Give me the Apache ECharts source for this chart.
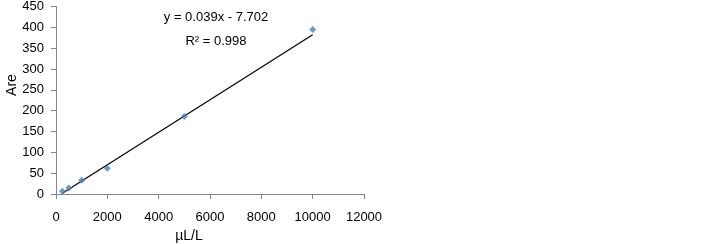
<!DOCTYPE html>
<html><head><meta charset="utf-8">
<script src="https://cdn.jsdelivr.net/npm/echarts@6/dist/echarts.min.js"></script>
<style>html,body{margin:0;padding:0;background:#fff}#c{width:722px;height:244px}</style>
</head><body><div id="c"></div>
<script>
const concentrations = [250, 500, 1000, 2000, 5000, 10000];
const areas = [6.5, 14.5, 33, 62, 186, 395];
const trendX = [250, 10000];
const trendY = [2, 382];
const yTicks = [0, 50, 100, 150, 200, 250, 300, 350, 400, 450];
const xTicks = [0, 2000, 4000, 6000, 8000, 10000, 12000];
const equationLines = ['y = 0.039x - 7.702', 'R² = 0.998'];
const xTitle = 'µL/L';
const yTitle = 'Are';

const font = 'Liberation Sans';
const chart = echarts.init(document.getElementById('c'));
chart.setOption({
  animation: false,
  grid: {left: 56, top: 6, right: 358, bottom: 50, containLabel: false},
  xAxis: {
    type: 'value', min: xTicks[0], max: xTicks[xTicks.length-1], interval: 2000,
    axisLine: {show: true, lineStyle: {color: '#868686', width: 1}},
    axisTick: {show: true, length: 5, lineStyle: {color: '#868686'}},
    axisLabel: {margin: 17, color: '#000', fontFamily: font, fontSize: 13, formatter: v => String(v)},
    splitLine: {show: false}
  },
  yAxis: {
    type: 'value', min: yTicks[0], max: yTicks[yTicks.length-1], interval: 50,
    axisLine: {show: true, lineStyle: {color: '#868686', width: 1}},
    axisTick: {show: true, length: 5, lineStyle: {color: '#868686'}},
    axisLabel: {margin: 12, color: '#000', fontFamily: font, fontSize: 13, formatter: v => String(v)},
    splitLine: {show: false}
  },
  graphic: [
    {type: 'text', x: 189, y: 236, style: {text: xTitle, font: '14px "Liberation Sans"', fill: '#000', textAlign: 'center', textVerticalAlign: 'middle'}},
    {type: 'text', x: 12, y: 85, rotation: Math.PI/2, style: {text: yTitle, font: '14px "Liberation Sans"', fill: '#000', textAlign: 'center', textVerticalAlign: 'middle'}},
    {type: 'text', x: 216, y: 17, style: {text: equationLines[0], font: '13px "Liberation Sans"', fill: '#000', textAlign: 'center', textVerticalAlign: 'middle'}},
    {type: 'text', x: 216, y: 41, style: {text: equationLines[1], font: '13px "Liberation Sans"', fill: '#000', textAlign: 'center', textVerticalAlign: 'middle'}}
  ],
  series: [
    {type: 'line', data: trendX.map((x, i) => [x, trendY[i]]), showSymbol: false, symbol: 'none',
     lineStyle: {color: '#000', width: 1.2}, z: 2},
    {type: 'scatter', data: concentrations.map((x, i) => [x, areas[i]]), symbol: 'diamond', symbolSize: 7,
     itemStyle: {color: '#4a7ebb'}, z: 3}
  ]
});
</script></body></html>
